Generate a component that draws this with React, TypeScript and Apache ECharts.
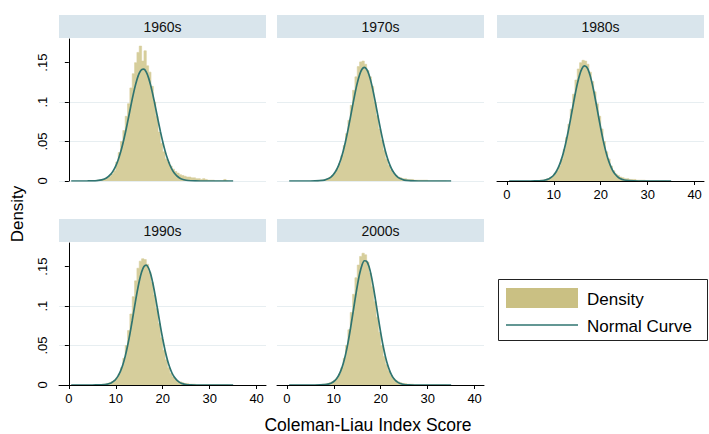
import React, { useEffect, useRef } from "react";
import * as echarts from "echarts";

// ---------- data ----------
const decades = ["1960s", "1970s", "1980s", "1990s", "2000s"];

// histogram bins: left edges start at binStart, each binWidth wide
const binStart = 6;
const binWidth = 0.5;

const hist1960s = [
  0.001, 0.001, 0.002, 0.003, 0.004, 0.006, 0.009, 0.013, 0.024, 0.036,
  0.05, 0.064, 0.082, 0.098, 0.118, 0.136, 0.15, 0.163, 0.171, 0.152,
  0.165, 0.146, 0.138, 0.12, 0.1, 0.082, 0.062, 0.048, 0.037, 0.028,
  0.024, 0.019, 0.015, 0.012, 0.01, 0.008, 0.007, 0.006, 0.005, 0.005,
  0.004, 0.004, 0.003, 0.003, 0.002, 0.003, 0.002, 0.001, 0.001, 0.001,
  0, 0, 0, 0, 0.002, 0,
];
const hist1970s = [
  0, 0, 0.001, 0.001, 0.002, 0.003, 0.005, 0.007, 0.01, 0.015,
  0.022, 0.032, 0.045, 0.06, 0.077, 0.096, 0.115, 0.132, 0.145, 0.151,
  0.152, 0.148, 0.14, 0.132, 0.12, 0.1, 0.083, 0.066, 0.052, 0.039,
  0.028, 0.02, 0.014, 0.01, 0.007, 0.005, 0.004, 0.003, 0.003, 0.002,
  0.002, 0.002, 0.001, 0.001, 0.001, 0.001, 0.001, 0.001, 0, 0,
  0, 0, 0, 0, 0, 0,
];
const hist1980s = [
  0, 0, 0.001, 0.001, 0.002, 0.003, 0.004, 0.006, 0.009, 0.013,
  0.019, 0.028, 0.04, 0.055, 0.072, 0.091, 0.11, 0.128, 0.142, 0.15,
  0.153, 0.152, 0.148, 0.138, 0.126, 0.113, 0.098, 0.082, 0.066, 0.05,
  0.037, 0.028, 0.019, 0.013, 0.009, 0.007, 0.005, 0.004, 0.003, 0.003,
  0.002, 0.002, 0.002, 0.001, 0.001, 0.001, 0.001, 0, 0, 0,
  0, 0, 0, 0, 0, 0,
];
const hist1990s = [
  0, 0, 0.001, 0.001, 0.002, 0.003, 0.004, 0.006, 0.009, 0.014,
  0.022, 0.034, 0.05, 0.069, 0.09, 0.112, 0.132, 0.148, 0.157, 0.16,
  0.159, 0.153, 0.143, 0.13, 0.114, 0.097, 0.078, 0.06, 0.044, 0.032,
  0.022, 0.015, 0.01, 0.007, 0.005, 0.004, 0.003, 0.002, 0.002, 0.001,
  0.001, 0.001, 0, 0, 0, 0, 0, 0, 0, 0,
  0, 0, 0, 0, 0, 0,
];
const hist2000s = [
  0, 0, 0, 0.001, 0.001, 0.002, 0.003, 0.004, 0.006, 0.009,
  0.014, 0.022, 0.034, 0.05, 0.07, 0.092, 0.115, 0.136, 0.152, 0.163,
  0.167, 0.165, 0.156, 0.142, 0.125, 0.106, 0.086, 0.067, 0.05, 0.036,
  0.026, 0.018, 0.012, 0.008, 0.006, 0.004, 0.003, 0.002, 0.002, 0.001,
  0.001, 0.001, 0, 0, 0, 0, 0, 0, 0, 0,
  0, 0, 0, 0, 0, 0,
];

// normal curves, read at these scores
const curveX = [
  0.5, 1, 2, 3, 4, 5, 6, 7, 8, 9,
  9.5, 10, 10.5, 11, 11.5, 12, 12.5, 13, 13.5, 14,
  14.5, 15, 15.5, 16, 16.5, 17, 17.5, 18, 18.5, 19,
  19.5, 20, 20.5, 21, 21.5, 22, 22.5, 23, 23.5, 24,
  25, 26, 27, 28, 29, 30, 31, 32, 33, 34, 35,
];
const curve1960s = [
  0, 0, 0, 0, 0.00004, 0.00014, 0.0005, 0.0014, 0.0038, 0.0091,
  0.0134, 0.0192, 0.0267, 0.0361, 0.0473, 0.0602, 0.0743, 0.0891, 0.1037, 0.1171,
  0.1284, 0.1367, 0.1412, 0.1417, 0.1379, 0.1304, 0.1196, 0.1065, 0.0921, 0.0772,
  0.0629, 0.0497, 0.0382, 0.0284, 0.0206, 0.0145, 0.0098, 0.0065, 0.0042, 0.0026,
  0.0009, 0.0003, 0.0001, 0, 0, 0, 0, 0, 0, 0, 0,
];
const curve1970s = [
  0, 0, 0, 0, 0, 0, 0.0001, 0.0004, 0.0012, 0.0035,
  0.0056, 0.0088, 0.0133, 0.0195, 0.0276, 0.0377, 0.05, 0.0641, 0.0794, 0.0952,
  0.1105, 0.1241, 0.1348, 0.1416, 0.144, 0.1416, 0.1348, 0.1241, 0.1105, 0.0952,
  0.0794, 0.0641, 0.05, 0.0377, 0.0276, 0.0195, 0.0133, 0.0088, 0.0056, 0.0035,
  0.0012, 0.0004, 0.0001, 0, 0, 0, 0, 0, 0, 0, 0,
];
const curve1980s = [
  0, 0, 0, 0, 0, 0, 0.0001, 0.0003, 0.001, 0.0029,
  0.0048, 0.0077, 0.0118, 0.0175, 0.0252, 0.0349, 0.0469, 0.0608, 0.0763, 0.0925,
  0.1084, 0.1228, 0.1345, 0.1425, 0.1459, 0.1444, 0.1382, 0.1279, 0.1144, 0.0989,
  0.0827, 0.0669, 0.0522, 0.0395, 0.0288, 0.0204, 0.0139, 0.0092, 0.0059, 0.0036,
  0.0012, 0.0004, 0.0001, 0, 0, 0, 0, 0, 0, 0, 0,
];
const curve1990s = [
  0, 0, 0, 0, 0, 0, 0.0001, 0.0002, 0.0008, 0.0026,
  0.0045, 0.0073, 0.0116, 0.0176, 0.0257, 0.0363, 0.0494, 0.0646, 0.0816, 0.0993,
  0.1164, 0.1315, 0.1432, 0.1502, 0.1519, 0.148, 0.139, 0.1258, 0.1097, 0.0922,
  0.0747, 0.0583, 0.0438, 0.0318, 0.0222, 0.0149, 0.0097, 0.0061, 0.0036, 0.0021,
  0.0006, 0.0002, 0, 0, 0, 0, 0, 0, 0, 0, 0,
];
const curve2000s = [
  0, 0, 0, 0, 0, 0, 0, 0.0001, 0.0004, 0.0014,
  0.0025, 0.0044, 0.0073, 0.0117, 0.0182, 0.027, 0.0385, 0.0528, 0.0697, 0.0882,
  0.1073, 0.1254, 0.1408, 0.1519, 0.1575, 0.1569, 0.1501, 0.138, 0.1219, 0.1035,
  0.0844, 0.0661, 0.0498, 0.036, 0.025, 0.0167, 0.0107, 0.0066, 0.0039, 0.0022,
  0.0006, 0.0002, 0, 0, 0, 0, 0, 0, 0, 0, 0,
];

const xTicks = [0, 10, 20, 30, 40];
const yTicks = [0, 0.05, 0.1, 0.15];
const legendLabels = ["Density", "Normal Curve"];
const xTitle = "Coleman-Liau Index Score";
const yTitle = "Density";

const histData = [hist1960s, hist1970s, hist1980s, hist1990s, hist2000s];
const curveData = [curve1960s, curve1970s, curve1980s, curve1990s, curve2000s];

// ---------- styling / layout ----------
const FONT = "'Liberation Sans', Arial, Helvetica, sans-serif";
const HIST_COLOR = "#d6ce9c";
const SWATCH_COLOR = "#cac083";
const LINE_COLOR = "#2f7470";
const HEADER_COLOR = "#d9e5ec";
const GRID_COLOR = "#e7eef1";

const colLeft = [59, 277, 497];
const rowTop = [39, 243];
const PANEL_W = 207;
const PANEL_H = 142;
const HEADER_H = 23;

const layout = [
  { col: 0, row: 0, showX: false, showY: true },
  { col: 1, row: 0, showX: false, showY: false },
  { col: 2, row: 0, showX: true, showY: false },
  { col: 0, row: 1, showX: true, showY: true },
  { col: 1, row: 1, showX: true, showY: false },
];

function buildOption() {
  const grids: any[] = [];
  const xAxes: any[] = [];
  const yAxes: any[] = [];
  const series: any[] = [];
  const graphics: any[] = [];

  layout.forEach((p, i) => {
    const left = colLeft[p.col];
    const top = rowTop[p.row];
    grids.push({
      left,
      top,
      width: PANEL_W,
      height: PANEL_H,
      containLabel: false,
      outerBoundsMode: "none",
    });
    xAxes.push({
      type: "value",
      gridIndex: i,
      min: -2.1,
      max: 42,
      z: 5,
      axisLine: { show: p.showX, onZero: false, lineStyle: { color: "#000", width: 1 } },
      axisTick: {
        show: p.showX,
        length: 4,
        customValues: xTicks,
        lineStyle: { color: "#000" },
      },
      axisLabel: {
        show: p.showX,
        customValues: xTicks,
        fontSize: 13,
        color: "#000",
        fontFamily: FONT,
        margin: 7,
      },
      splitLine: { show: false },
    });
    yAxes.push({
      type: "value",
      gridIndex: i,
      min: 0,
      max: 0.18,
      interval: 0.05,
      axisLine: { show: p.showY, lineStyle: { color: "#000", width: 1 } },
      axisTick: {
        show: p.showY,
        length: 4,
        customValues: yTicks,
        lineStyle: { color: "#000" },
      },
      axisLabel: {
        show: p.showY,
        customValues: yTicks,
        rotate: 90,
        fontSize: 13,
        color: "#000",
        fontFamily: FONT,
        margin: 10,
        formatter: (v: number) => (v === 0 ? "0" : String(+v.toFixed(2)).replace(/^0/, "")),
      },
      splitLine: {
        show: true,
        showMinLine: true,
        showMaxLine: false,
        lineStyle: { color: GRID_COLOR, width: 1.2 },
      },
    });

    // histogram as a stepped filled area (one shape, no seams between bins)
    const hist = histData[i];
    const histPoints = hist.map((v, k) => [binStart + k * binWidth, v]);
    histPoints.push([binStart + hist.length * binWidth, 0]);
    series.push({
      type: "line",
      name: "Density",
      xAxisIndex: i,
      yAxisIndex: i,
      z: 2,
      silent: true,
      step: "end",
      symbol: "none",
      showSymbol: false,
      lineStyle: { width: 0.6, color: HIST_COLOR },
      areaStyle: { color: HIST_COLOR, opacity: 1, origin: "start" },
      data: histPoints,
    });
    series.push({
      type: "line",
      name: "Normal Curve",
      xAxisIndex: i,
      yAxisIndex: i,
      z: 3,
      silent: true,
      symbol: "none",
      showSymbol: false,
      smooth: 0.25,
      lineStyle: { color: LINE_COLOR, width: 1.7 },
      data: curveX.map((x, k) => [x, curveData[i][k]]),
    });

    // header strip
    graphics.push({
      type: "rect",
      shape: { x: left, y: top - HEADER_H - 1, width: PANEL_W, height: HEADER_H },
      style: { fill: HEADER_COLOR },
      silent: true,
    });
    graphics.push({
      type: "text",
      x: left + PANEL_W / 2,
      y: top - 1 - HEADER_H / 2,
      style: {
        text: decades[i],
        fill: "#111",
        font: `14px ${FONT}`,
        align: "center",
        verticalAlign: "middle",
      },
      silent: true,
    });
  });

  // axis titles
  graphics.push({
    type: "text",
    x: 17,
    y: 214,
    rotation: Math.PI / 2,
    style: {
      text: yTitle,
      fill: "#000",
      font: `17px ${FONT}`,
      align: "center",
      verticalAlign: "middle",
    },
    silent: true,
  });
  graphics.push({
    type: "text",
    x: 368,
    y: 425,
    style: {
      text: xTitle,
      fill: "#000",
      font: `17.5px ${FONT}`,
      align: "center",
      verticalAlign: "middle",
    },
    silent: true,
  });

  // legend
  graphics.push({
    type: "rect",
    shape: { x: 498.5, y: 279.5, width: 209, height: 61 },
    style: { fill: "#fff", stroke: "#222", lineWidth: 1 },
    silent: true,
  });
  graphics.push({
    type: "rect",
    shape: { x: 506, y: 288, width: 72, height: 20 },
    style: { fill: SWATCH_COLOR },
    silent: true,
  });
  graphics.push({
    type: "line",
    shape: { x1: 506, y1: 325, x2: 578, y2: 325 },
    style: { stroke: LINE_COLOR, lineWidth: 1.7 },
    silent: true,
  });
  graphics.push({
    type: "text",
    x: 587,
    y: 299,
    style: { text: legendLabels[0], fill: "#000", font: `17px ${FONT}`, verticalAlign: "middle" },
    silent: true,
  });
  graphics.push({
    type: "text",
    x: 587,
    y: 326,
    style: { text: legendLabels[1], fill: "#000", font: `17px ${FONT}`, verticalAlign: "middle" },
    silent: true,
  });

  return {
    animation: false,
    backgroundColor: "#fff",
    textStyle: { fontFamily: FONT },
    grid: grids,
    xAxis: xAxes,
    yAxis: yAxes,
    series,
    graphic: { elements: graphics },
  };
}

export default function App() {
  const ref = useRef<HTMLDivElement>(null);
  useEffect(() => {
    if (!ref.current) return;
    const chart = echarts.init(ref.current, undefined, { renderer: "svg" });
    chart.setOption(buildOption() as any);
    return () => chart.dispose();
  }, []);
  return (
    <div
      ref={ref}
      style={{ position: "absolute", left: 0, top: 0, width: 709, height: 434, background: "#fff" }}
    />
  );
}
